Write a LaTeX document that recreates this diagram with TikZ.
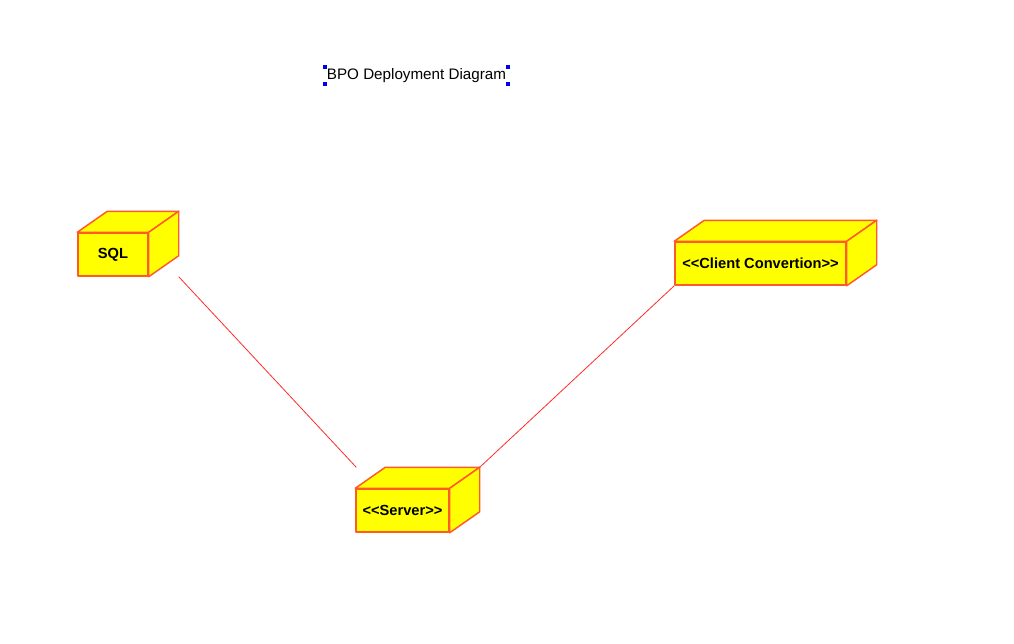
\documentclass[tikz,border=0pt]{standalone}
\usepackage{fontspec}
\setmainfont{Liberation Sans}[Ligatures=TeXOff]
\definecolor{devfill}{HTML}{FFFF00}
\definecolor{devedge}{HTML}{FF5A2A}
\definecolor{linkred}{HTML}{FF2A2A}
\definecolor{handleblue}{HTML}{0000EE}
\usetikzlibrary{calc}

% top and side faces of a deployment node
\newcommand{\devcube}[1]{%
  \filldraw[devface] (#1.north west) -- ++(30,-21)
    -- ($(#1.north east)+(30,-21)$) -- (#1.north east) -- cycle;
  \filldraw[devface] (#1.north east) -- ++(30,-21)
    -- ($(#1.south east)+(30,-21)$) -- (#1.south east) -- cycle;
}

\begin{document}
\begin{tikzpicture}[
  x=0.75pt,y=-0.75pt,
  devface/.style={draw=devedge,fill=devfill,line width=1.1pt,line join=round},
  device/.style={devface,minimum height=32.25pt,inner sep=0pt,
    font=\fontsize{11}{13}\selectfont\bfseries},
  link/.style={draw=linkred,line width=0.6pt},
  handle/.style={fill=handleblue}
]
\useasboundingbox (0,0) rectangle (1014,643);
\node[font=\fontsize{11.4}{13}\selectfont,inner xsep=1pt,inner ysep=1.2pt]
  (title) at (416.5,75.5) {BPO Deployment Diagram};
\foreach \corner in {north west,north east,south west,south east}
  \fill[handle] (title.\corner) ++(-2,-2) rectangle ++(4,4);
\node[device,minimum width=52.5pt] (sql) at (113,254.5) {SQL};
\devcube{sql}
\node[device,minimum width=69.75pt] (srv) at (402.5,510.5) {<<Server>>};
\devcube{srv}
\node[device,minimum width=128.25pt] (cli) at (760.5,263.5) {<<Client Convertion>>};
\devcube{cli}
\draw[link] ([xshift=22.5pt]sql.south east) -- ([shift={(1,-21)}]srv.north west);
\draw[link] (cli.south west) -- ([shift={(30,-21)}]srv.north east);
\end{tikzpicture}
\end{document}
